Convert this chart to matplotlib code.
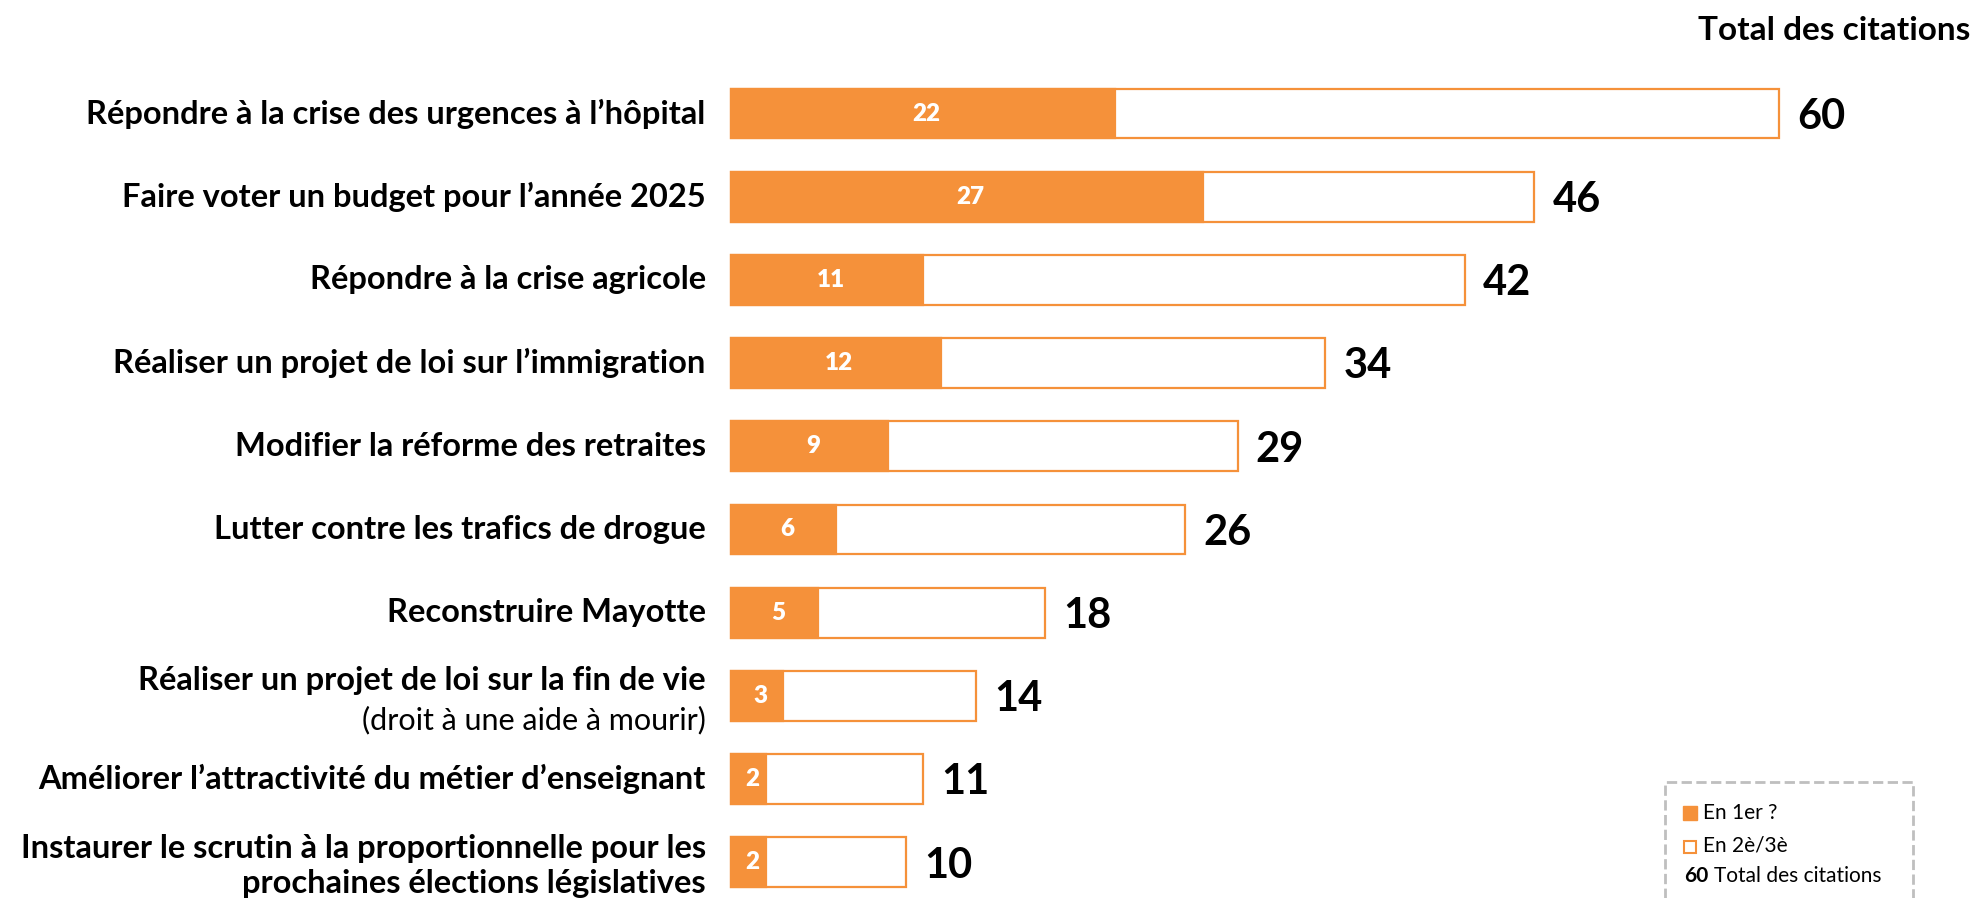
import matplotlib.pyplot as plt
from matplotlib.patches import Rectangle

plt.rcParams['font.family'] = ['Lato', 'DejaVu Sans']

# Data
categories = [
    'Répondre à la crise des urgences à l’hôpital',
    'Faire voter un budget pour l’année 2025',
    'Répondre à la crise agricole',
    'Réaliser un projet de loi sur l’immigration',
    'Modifier la réforme des retraites',
    'Lutter contre les trafics de drogue',
    'Reconstruire Mayotte',
    'Réaliser un projet de loi sur la fin de vie',
    'Améliorer l’attractivité du métier d’enseignant',
    'Instaurer le scrutin à la proportionnelle pour les\nprochaines élections législatives',
]
sublabels = ['', '', '', '', '', '', '', '(droit à une aide à mourir)', '', '']
first = [22, 27, 11, 12, 9, 6, 5, 3, 2, 2]
total = [60, 46, 42, 34, 29, 26, 18, 14, 11, 10]

ORANGE = '#F5913A'
W, H = 1978, 898

fig = plt.figure(figsize=(W / 100, H / 100), dpi=100)
x0, x60 = 731, 1779
row0, step = 113.5, 83.2
n = len(categories)
ax = fig.add_axes([x0 / W, 1 - (row0 + (n - 1) * step) / H, (x60 - x0) / W, (n - 1) * step / H])
ax.set_xlim(0, 60)
ax.set_ylim(n - 1, 0)
ax.axis('off')

ypos = list(range(n))
ax.barh(ypos, total, height=0.6, color='white', edgecolor=ORANGE, linewidth=1.6, clip_on=False)
ax.barh(ypos, first, height=0.6, color=ORANGE, edgecolor=ORANGE, linewidth=1.6, clip_on=False)

LX = -1.45
for i in ypos:
    # category label
    if sublabels[i]:
        ax.text(LX, i - 0.18, categories[i], ha='right', va='center', fontsize=23.5,
                fontweight='bold', clip_on=False)
        ax.text(LX, i + 0.29, sublabels[i], ha='right', va='center', fontsize=22, clip_on=False)
    elif '\n' in categories[i]:
        top, bottom = categories[i].split('\n')
        ax.text(LX, i - 0.16, top, ha='right', va='center', fontsize=23.5,
                fontweight='bold', clip_on=False)
        ax.text(LX, i + 0.25, bottom, ha='right', va='center', fontsize=23.5,
                fontweight='bold', clip_on=False)
    else:
        ax.text(LX, i, categories[i], ha='right', va='center', fontsize=23.5,
                fontweight='bold', clip_on=False)
    # first-choice value inside the bar
    ax.text(first[i] / 2 + 0.2, i, str(first[i]), ha='center', va='center', fontsize=17.5,
            fontweight='heavy', color='white', clip_on=False)
    # total value after the bar
    ax.text(total[i] + 1.05, i + 0.04, str(total[i]), ha='left', va='center', fontsize=30,
            fontweight='bold', clip_on=False)

fig.text(1970 / W, 1 - 30 / H, 'Total des citations', ha='right', va='center',
         fontsize=24, fontweight='bold')

# Legend box (dashed)
fig.add_artist(Rectangle((1665 / W, -0.05), (1913 - 1665) / W, (898 - 782) / H + 0.05,
                         transform=fig.transFigure, fill=False, edgecolor='#BFBFBF',
                         linestyle='--', linewidth=2, clip_on=False))
fig.add_artist(Rectangle((1683 / W, 1 - 820 / H), 14 / W, 14 / H, transform=fig.transFigure,
                         facecolor=ORANGE, edgecolor=ORANGE, linewidth=1))
fig.add_artist(Rectangle((1684 / W, 1 - 853 / H), 12 / W, 12 / H, transform=fig.transFigure,
                         facecolor='white', edgecolor=ORANGE, linewidth=1.5))
fig.text(1703 / W, 1 - 813 / H, 'En 1er ?', ha='left', va='center', fontsize=15)
fig.text(1703 / W, 1 - 846 / H, 'En 2è/3è', ha='left', va='center', fontsize=15)
fig.text(1684 / W, 1 - 876 / H, '60', ha='left', va='center', fontsize=15, fontweight='bold')
fig.text(1714 / W, 1 - 876 / H, 'Total des citations', ha='left', va='center', fontsize=15)

fig.savefig('out.png', dpi=100)
